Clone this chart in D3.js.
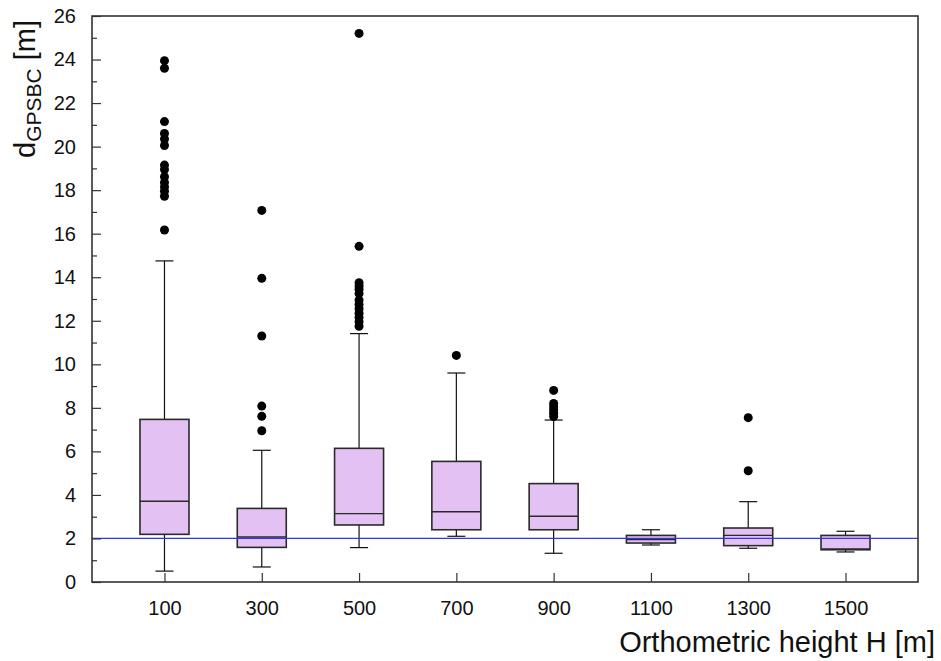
<!DOCTYPE html>
<html>
<head>
<meta charset="utf-8">
<script src="https://cdn.jsdelivr.net/npm/d3@7"></script>
<style>
  body { margin: 0; background: #fff; }
  svg { display: block; font-family: "Liberation Sans", Arial, sans-serif; }
</style>
</head>
<body>
<svg id="chart" width="941" height="661"></svg>
<script>
// orthometric height classes
var categories = ['100', '300', '500', '700', '900', '1100', '1300', '1500']

// box statistics per class [m]
var q1 = [2.19, 1.59, 2.62, 2.40, 2.40, 1.79, 1.67, 1.48]
var median = [3.71, 2.07, 3.14, 3.23, 3.02, 1.95, 2.14, 1.52]
var q3 = [7.47, 3.38, 6.14, 5.54, 4.52, 2.14, 2.48, 2.14]
var whiskerLow = [0.50, 0.69, 1.58, 2.10, 1.32, 1.70, 1.55, 1.38]
var whiskerHigh = [14.75, 6.05, 11.41, 9.60, 7.44, 2.40, 3.69, 2.33]

var outliers = [
  [23.95, 23.6, 21.15, 20.6, 20.35, 20.05, 19.15, 18.95, 18.62, 18.35, 18.15, 17.95, 17.72, 16.17],
  [17.07, 13.95, 11.3, 8.08, 7.61, 6.95],
  [25.2, 15.42, 13.75, 13.6, 13.45, 13.25, 12.95, 12.75, 12.55, 12.35, 12.15, 11.95, 11.75],
  [10.41],
  [8.8, 8.2, 8.05, 7.9, 7.75, 7.6],
  [],
  [7.55, 5.11],
  []
]

var yTicks = [0, 2, 4, 6, 8, 10, 12, 14, 16, 18, 20, 22, 24, 26]
var yMinorTicks = [1, 3, 5, 7, 9, 11, 13, 15, 17, 19, 21, 23, 25]
var referenceLevel = 2

var plotLeft = 92, plotRight = 918, plotTop = 16, plotBottom = 582
var svg = d3.select('#chart')

var x = d3.scalePoint().domain(categories).range([plotLeft, plotRight]).padding(0.745)
var y = d3.scaleLinear().domain([0, 26]).range([plotBottom, plotTop])

var boxHalf = 24.5
var capHalf = 9

var rows = categories.map(function (c, i) {
  return { cat: c, q1: q1[i], med: median[i], q3: q3[i], lo: whiskerLow[i], hi: whiskerHigh[i], out: outliers[i] }
})

var g = svg.append('g')

// whiskers
rows.forEach(function (d) {
  var cx = x(d.cat)
  g.append('line').attr('x1', cx).attr('x2', cx).attr('y1', y(d.q3)).attr('y2', y(d.hi))
    .attr('stroke', '#111').attr('stroke-width', 1.2)
  g.append('line').attr('x1', cx).attr('x2', cx).attr('y1', y(d.q1)).attr('y2', y(d.lo))
    .attr('stroke', '#111').attr('stroke-width', 1.2)
  g.append('line').attr('x1', cx - capHalf).attr('x2', cx + capHalf).attr('y1', y(d.hi)).attr('y2', y(d.hi))
    .attr('stroke', '#111').attr('stroke-width', 1.2)
  g.append('line').attr('x1', cx - capHalf).attr('x2', cx + capHalf).attr('y1', y(d.lo)).attr('y2', y(d.lo))
    .attr('stroke', '#111').attr('stroke-width', 1.2)
})

// boxes
g.selectAll('rect.box').data(rows).join('rect')
  .attr('class', 'box')
  .attr('x', function (d) { return x(d.cat) - boxHalf })
  .attr('width', boxHalf * 2)
  .attr('y', function (d) { return y(d.q3) })
  .attr('height', function (d) { return y(d.q1) - y(d.q3) })
  .attr('fill', '#e4c1f3')
  .attr('stroke', '#2a2a2a')
  .attr('stroke-width', 1.6)

g.selectAll('line.median').data(rows).join('line')
  .attr('class', 'median')
  .attr('x1', function (d) { return x(d.cat) - boxHalf })
  .attr('x2', function (d) { return x(d.cat) + boxHalf })
  .attr('y1', function (d) { return y(d.med) })
  .attr('y2', function (d) { return y(d.med) })
  .attr('stroke', '#2a2a2a')
  .attr('stroke-width', 1.4)

// outliers
rows.forEach(function (d) {
  g.selectAll(null).data(d.out).join('circle')
    .attr('cx', x(d.cat))
    .attr('cy', function (v) { return y(v) })
    .attr('r', 4.5)
    .attr('fill', '#000')
})

// reference line at 2 m
svg.append('line')
  .attr('x1', plotLeft).attr('x2', plotRight)
  .attr('y1', y(referenceLevel)).attr('y2', y(referenceLevel))
  .attr('stroke', '#3535e8').attr('stroke-width', 1.3)

// axes
var yAxis = d3.axisLeft(y).tickValues(yTicks).tickSize(-9).tickPadding(16).tickFormat(d3.format('d'))
var yMinor = d3.axisLeft(y).tickValues(yMinorTicks).tickSize(-5).tickFormat('')
var xAxis = d3.axisBottom(x).tickSize(-9).tickPadding(19)

function styleAxis (sel) {
  sel.select('.domain').remove()
  sel.selectAll('line').attr('stroke', '#333').attr('stroke-width', 1.2)
  sel.selectAll('text').attr('fill', '#111').attr('font-size', 20)
}

svg.append('g').attr('transform', 'translate(' + plotLeft + ',0)').call(yAxis).call(styleAxis)
svg.append('g').attr('transform', 'translate(' + plotLeft + ',0)').call(yMinor).call(styleAxis)
svg.append('g').attr('transform', 'translate(0,' + plotBottom + ')').call(xAxis).call(styleAxis)

// frame
svg.append('rect')
  .attr('x', plotLeft).attr('y', plotTop)
  .attr('width', plotRight - plotLeft).attr('height', plotBottom - plotTop)
  .attr('fill', 'none').attr('stroke', '#333').attr('stroke-width', 1.6)

// titles
svg.append('text')
  .attr('x', 935).attr('y', 652)
  .attr('text-anchor', 'end')
  .attr('font-size', 29)
  .attr('fill', '#111')
  .text('Orthometric height H [m]')

var yt = svg.append('text')
  .attr('transform', 'translate(35,158) rotate(-90)')
  .attr('font-size', 29)
  .attr('fill', '#111')
yt.append('tspan').text('d')
yt.append('tspan').attr('font-size', 21).attr('dy', 6).text('GPSBC')
yt.append('tspan').attr('dy', -6).text(' [m]')
</script>
</body>
</html>
